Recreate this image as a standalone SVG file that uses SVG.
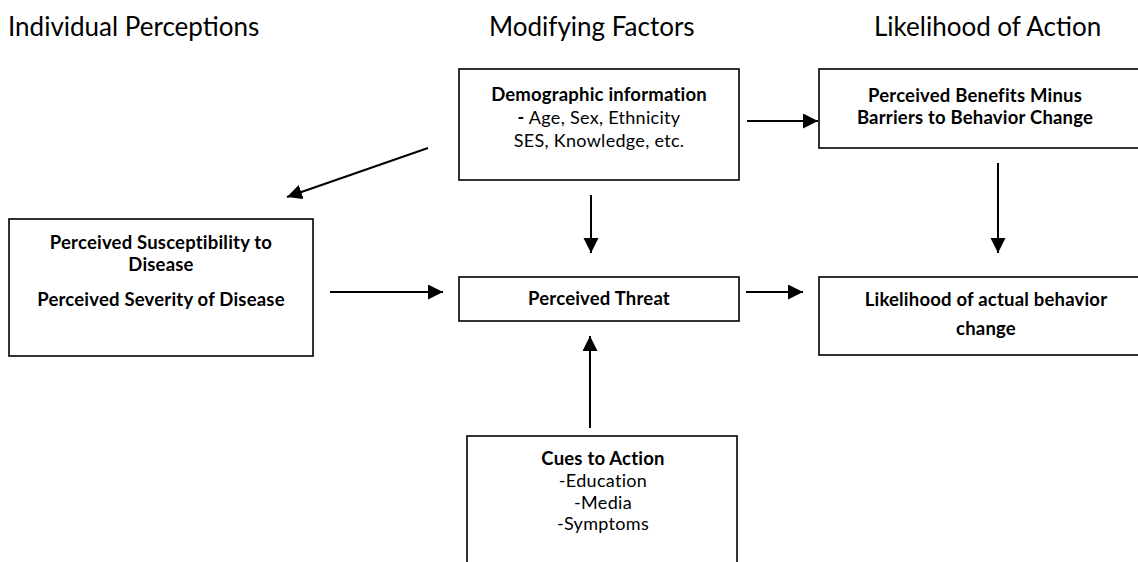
<svg xmlns="http://www.w3.org/2000/svg" width="1138" height="562" viewBox="0 0 1138 562">
<style>
.hdr{font-family:Lato,"Liberation Sans",sans-serif;font-size:26px;fill:#000}
.b{font-family:Lato,"Liberation Sans",sans-serif;font-size:18.5px;font-weight:bold;fill:#000;text-anchor:middle;letter-spacing:0.2px}
.n{font-family:Lato,"Liberation Sans",sans-serif;font-size:18px;fill:#000;text-anchor:middle;letter-spacing:0.3px}
.box{fill:#fff;stroke:#000;stroke-width:1.6}
.c{stroke:#000;stroke-width:2;fill:none;marker-end:url(#ah)}
</style>
<defs>
<marker id="ah" markerUnits="userSpaceOnUse" markerWidth="16" markerHeight="16" refX="15" refY="7.5" orient="auto">
<path d="M0,0 L15,7.5 L0,15 z" fill="#000"/>
</marker>
</defs>
<rect width="1138" height="562" fill="#fff"/>
<g id="headers">
<text class="hdr" x="8" y="36">Individual Perceptions</text>
<text class="hdr" x="489" y="36">Modifying Factors</text>
<text class="hdr" x="874" y="36">Likelihood of Action</text>
</g>
<g id="connectors">
<line class="c" x1="747" y1="121" x2="818" y2="121"/>
<line class="c" x1="428" y1="148" x2="287" y2="197"/>
<line class="c" x1="591" y1="195" x2="591" y2="253"/>
<line class="c" x1="998" y1="163" x2="998" y2="253"/>
<line class="c" x1="330" y1="292" x2="443" y2="292"/>
<line class="c" x1="746" y1="292" x2="803" y2="292"/>
<line class="c" x1="590" y1="428" x2="590" y2="336"/>
</g>
<g id="demographic">
<rect class="box" x="459" y="69" width="280" height="111"/>
<text class="b" x="599" y="101">Demographic information</text>
<text class="n" x="599" y="124"><tspan font-weight="bold">-</tspan> Age, Sex, Ethnicity</text>
<text class="n" x="599" y="147">SES, Knowledge, etc.</text>
</g>
<g id="benefits">
<rect class="box" x="819" y="69" width="330" height="79"/>
<text class="b" x="975" y="102">Perceived Benefits Minus</text>
<text class="b" x="975" y="124">Barriers to Behavior Change</text>
</g>
<g id="perceptions">
<rect class="box" x="9" y="219" width="304" height="137"/>
<text class="b" x="161" y="249">Perceived Susceptibility to</text>
<text class="b" x="161" y="271">Disease</text>
<text class="b" x="161" y="306">Perceived Severity of Disease</text>
</g>
<g id="threat">
<rect class="box" x="459" y="277" width="280" height="44"/>
<text class="b" x="599" y="305">Perceived Threat</text>
</g>
<g id="likelihood">
<rect class="box" x="819" y="277" width="330" height="78"/>
<text class="b" x="986" y="306">Likelihood of actual behavior</text>
<text class="b" x="986" y="335">change</text>
</g>
<g id="cues">
<rect class="box" x="467" y="436" width="270" height="140"/>
<text class="b" x="603" y="465">Cues to Action</text>
<text class="n" x="603" y="487">-Education</text>
<text class="n" x="603" y="509">-Media</text>
<text class="n" x="603" y="530">-Symptoms</text>
</g>
</svg>
